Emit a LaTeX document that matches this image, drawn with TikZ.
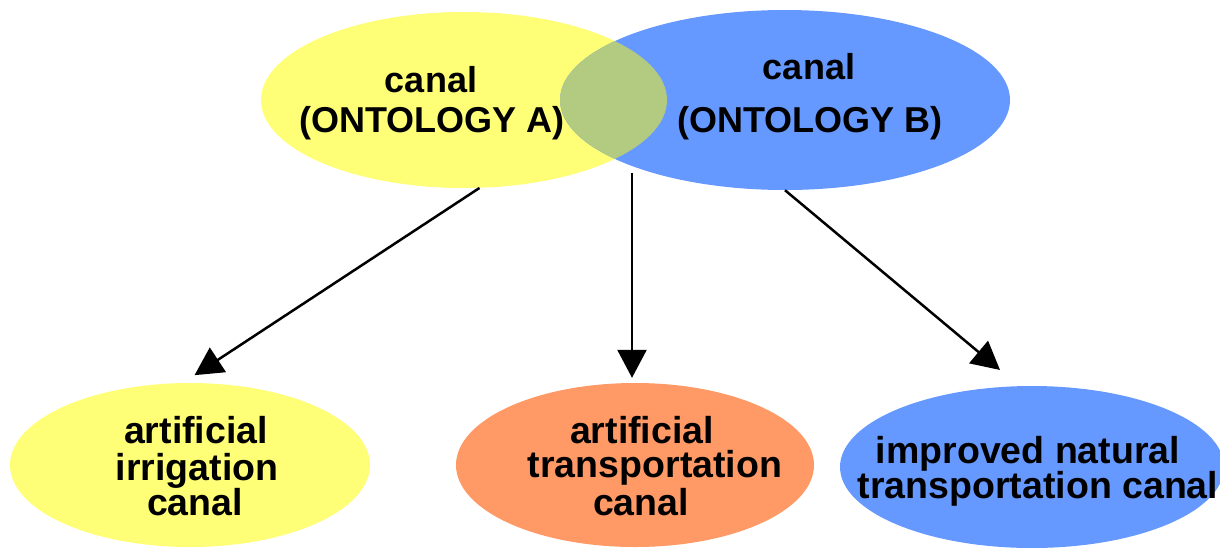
\documentclass[tikz,border=0pt]{standalone}
\usepackage{fontspec}
\setmainfont{Liberation Sans}
\usetikzlibrary{arrows.meta,shapes.geometric}
\definecolor{ylw}{RGB}{255,255,119}
\definecolor{blu}{RGB}{102,153,255}
\definecolor{org}{RGB}{255,153,102}
\definecolor{grn}{RGB}{179,203,128}
\tikzset{
  oval/.style={ellipse, inner sep=0pt, draw=none},
  toptxt/.style={anchor=base, inner sep=0pt, font=\fontsize{36}{40}\selectfont\bfseries},
  bottxt/.style={anchor=base, inner sep=0pt, font=\fontsize{37.5}{40}\selectfont\bfseries},
  arr/.style={line width=2.5pt, -{Triangle[length=28pt,width=29pt]}}
}
\begin{document}
\begin{tikzpicture}[x=1pt,y=-1pt]
\useasboundingbox (0,0) rectangle (1220,547);
\clip (0,0) rectangle (1220,547);
% top ellipses
\node[oval, fill=ylw, minimum width=406pt, minimum height=176pt] (yA) at (464,100) {};
\node[oval, fill=blu, minimum width=450pt, minimum height=180pt] (bB) at (785,100) {};
\begin{scope}
  \clip (yA.center) ellipse [x radius=203pt, y radius=88pt];
  \fill[grn] (bB.center) ellipse [x radius=225pt, y radius=90pt];
\end{scope}
% bottom ellipses
\node[oval, fill=ylw, minimum width=360pt, minimum height=164pt] (yC) at (190,465) {};
\node[oval, fill=org, minimum width=358pt, minimum height=164pt] (oC) at (635,465) {};
\node[oval, fill=blu, minimum width=384pt, minimum height=162pt] (bR) at (1032,467) {};
% texts
\node[toptxt] (tA1) at (431,92) {canal};
\node[toptxt] (tA2) at (432,132) {(ONTOLOGY A)};
\node[toptxt] (tB1) at (809,79) {canal};
\node[toptxt] (tB2) at (810,132) {(ONTOLOGY B)};
\node[bottxt] (c1) at (196,443) {artificial};
\node[bottxt] (c2) at (197,480) {irrigation};
\node[bottxt] (c3) at (195,515) {canal};
\node[bottxt] (o1) at (642,443) {artificial};
\node[bottxt] (o2) at (655,477) {transportation};
\node[bottxt] (o3) at (641,515) {canal};
\node[bottxt] (r1) at (1028,463) {improved natural};
\node[bottxt] (r2) at (1038,498) {transportation canal};
% arrows
\coordinate (m1) at (632,173);
\draw[arr, shorten >=14pt] (yA.-80) -- (yC.95);
\draw[arr, shorten >=5pt] (m1) -- (m1 |- oC.north);
\draw[arr, shorten >=25pt] (bB.south) -- (bR.99);
\end{tikzpicture}
\end{document}
